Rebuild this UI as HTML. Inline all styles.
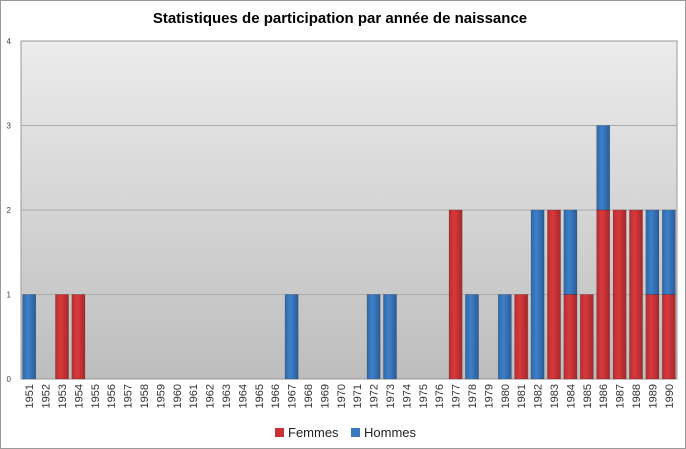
<!DOCTYPE html>
<html><head><meta charset="utf-8"><style>
body{margin:0;background:#fff;font-family:"Liberation Sans",sans-serif}
svg{display:block}
</style></head><body>
<svg width="686" height="449">
<defs>
<linearGradient id="bg" x1="0" y1="0" x2="0" y2="1"><stop offset="0" stop-color="#ececec"/><stop offset="1" stop-color="#bdbdbd"/></linearGradient>
<linearGradient id="red" x1="0" y1="0" x2="1" y2="0"><stop offset="0" stop-color="#b52e30"/><stop offset="0.4" stop-color="#d9393c"/><stop offset="1" stop-color="#a8282a"/></linearGradient>
<linearGradient id="blue" x1="0" y1="0" x2="1" y2="0"><stop offset="0" stop-color="#2f68a8"/><stop offset="0.4" stop-color="#3d80c9"/><stop offset="1" stop-color="#295d98"/></linearGradient>
</defs>
<rect x="0.5" y="0.5" width="685" height="448" fill="#fff" stroke="#999"/>
<text x="340" y="23" text-anchor="middle" font-size="15" font-weight="bold" fill="#000">Statistiques de participation par année de naissance</text>
<rect x="21" y="41" width="656" height="338" fill="url(#bg)" stroke="#999"/>
<g id="grid"></g><g id="bars"></g><g id="xl"></g>
<g>
<rect x="275" y="428" width="9" height="9" fill="#c83234"/>
<text x="288" y="437" font-size="13" fill="#222">Femmes</text>
<rect x="351" y="428" width="9" height="9" fill="#3a79bf"/>
<text x="364" y="437" font-size="13" fill="#222">Hommes</text>
</g>
</svg>
<script>
const years=[];for(let y=1951;y<=1990;y++)years.push(String(y));
const femmes=[0,0,1,1,0,0,0,0,0,0,0,0,0,0,0,0,0,0,0,0,0,0,0,0,0,0,2,0,0,0,1,0,2,1,1,2,2,2,1,1];
const hommes=[1,0,0,0,0,0,0,0,0,0,0,0,0,0,0,0,1,0,0,0,0,1,1,0,0,0,0,1,0,1,0,2,0,1,0,1,0,0,1,1];
const yTicks=[0,1,2,3,4];
const X0=21,X1=677,Y0=379,Y1=41,YMAX=4;
const ns="http://www.w3.org/2000/svg";
const slot=(X1-X0)/years.length;
const yS=v=>Y0-(Y0-Y1)*v/YMAX;
const xS=i=>X0+slot*i;
const grid=document.getElementById('grid'),bars=document.getElementById('bars'),xl=document.getElementById('xl');
yTicks.forEach(t=>{
 if(t>0&&t<YMAX){const l=document.createElementNS(ns,'line');
 l.setAttribute('x1',X0);l.setAttribute('x2',X1);l.setAttribute('y1',yS(t));l.setAttribute('y2',yS(t));l.setAttribute('stroke','#aaa');
 
 grid.appendChild(l);}
 const tx=document.createElementNS(ns,'text');tx.setAttribute('x',11);tx.setAttribute('y',yS(t)+3);tx.setAttribute('text-anchor','end');tx.setAttribute('font-size','8');tx.setAttribute('fill','#444');tx.textContent=t;
 
 grid.appendChild(tx);
});
function bar(i,v0,v1,fill,name){
 if(v1<=v0)return;const r=document.createElementNS(ns,'rect');
 const w=slot*0.8;r.setAttribute('x',xS(i)+(slot-w)/2);r.setAttribute('width',w);
 r.setAttribute('y',yS(v1));r.setAttribute('height',yS(v0)-yS(v1));r.setAttribute('fill',fill);r.setAttribute('stroke','rgba(0,0,0,0.25)');r.setAttribute('stroke-width','0.6');
 
 bars.appendChild(r);
}
years.forEach((y,i)=>{
 bar(i,0,femmes[i],'url(#red)','bar-femmes-'+y);
 bar(i,femmes[i],femmes[i]+hommes[i],'url(#blue)','bar-hommes-'+y);
 const tx=document.createElementNS(ns,'text');const cx=xS(i)+slot/2+4;
 tx.setAttribute('transform','translate('+cx+',384) rotate(-90)');tx.setAttribute('text-anchor','end');tx.setAttribute('font-size','11');tx.setAttribute('fill','#333');tx.textContent=y;
 
 xl.appendChild(tx);
});
</script>
</body></html>
